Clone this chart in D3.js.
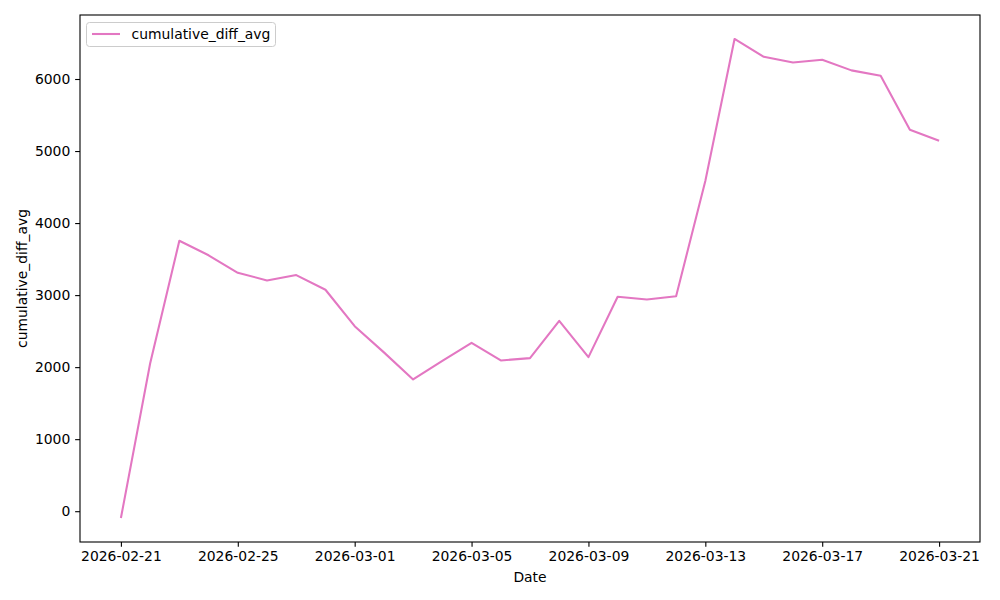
<!DOCTYPE html>
<html>
<head>
<meta charset="utf-8">
<script src="https://cdn.jsdelivr.net/npm/d3@7"></script>
<style>
  body { margin: 0; background: #fff; }
  svg { font-family: "DejaVu Sans", sans-serif; }
  .tick text { font-size: 13.9px; fill: #000; font-family: "DejaVu Sans", sans-serif; }
  .tick line { stroke: #000; stroke-width: 1.1; }
  .domain { display: none; }
</style>
</head>
<body>
<svg width="1000" height="600"></svg>
<script>
'use strict';

var dates = [
  "2026-02-21","2026-02-22","2026-02-23","2026-02-24","2026-02-25","2026-02-26",
  "2026-02-27","2026-02-28","2026-03-01","2026-03-02","2026-03-03","2026-03-04",
  "2026-03-05","2026-03-06","2026-03-07","2026-03-08","2026-03-09","2026-03-10",
  "2026-03-11","2026-03-12","2026-03-13","2026-03-14","2026-03-15","2026-03-16",
  "2026-03-17","2026-03-18","2026-03-19","2026-03-20","2026-03-21"
];
var cumulativeDiffAvg = [
  -95, 2050, 3754, 3553, 3310, 3204,
  3278, 3074, 2569, 2205, 1829, 2088,
  2338, 2093, 2125, 2643, 2139, 2978,
  2940, 2984, 4583, 6556, 6308, 6229,
  6268, 6120, 6044, 5295, 5142
];
var xTickLabels = ["2026-02-21","2026-02-25","2026-03-01","2026-03-05","2026-03-09","2026-03-13","2026-03-17","2026-03-21"];
var yTickValues = [0, 1000, 2000, 3000, 4000, 5000, 6000];
var seriesName = "cumulative_diff_avg";

function init(){
    var svg = d3.select("svg");
    var left = 80, right = 980, top = 15, bottom = 542;
    var parse = d3.utcParse("%Y-%m-%d");
    var data = dates.map(function(d, i){ return {date: parse(d), value: cumulativeDiffAvg[i]}; });

    // matplotlib style 5% margins
    var xExt = d3.extent(data, function(d){ return +d.date; });
    var xPad = (xExt[1] - xExt[0]) * 0.05;
    var x = d3.scaleUtc()
        .domain([new Date(xExt[0] - xPad), new Date(xExt[1] + xPad)])
        .range([left, right]);

    var yExt = d3.extent(data, function(d){ return d.value; });
    var yPad = (yExt[1] - yExt[0]) * 0.05;
    var y = d3.scaleLinear()
        .domain([yExt[0] - yPad, yExt[1] + yPad])
        .range([bottom, top]);

    var tick = 4.86;

    svg.append("g")
        .attr("transform", "translate(0," + bottom + ")")
        .call(d3.axisBottom(x)
            .tickValues(xTickLabels.map(parse))
            .tickFormat(d3.utcFormat("%Y-%m-%d"))
            .tickSize(tick).tickPadding(4.2))
        .attr("font-family", "DejaVu Sans");

    svg.append("g")
        .attr("transform", "translate(" + left + ",0)")
        .call(d3.axisLeft(y)
            .tickValues(yTickValues)
            .tickFormat(d3.format("d"))
            .tickSize(tick).tickPadding(4.86))
        .attr("font-family", "DejaVu Sans");

    var line = d3.line()
        .x(function(d){ return x(d.date); })
        .y(function(d){ return y(d.value); });

    svg.append("path")
        .datum(data)
        .attr("fill", "none")
        .attr("stroke", "#e377c2")
        .attr("stroke-width", 2.08)
        .attr("stroke-linejoin", "round")
        .attr("d", line);

    // frame
    svg.append("rect")
        .attr("x", left).attr("y", top)
        .attr("width", right - left).attr("height", bottom - top)
        .attr("fill", "none")
        .attr("stroke", "#000")
        .attr("stroke-width", 1.1);

    // axis labels
    svg.append("text")
        .attr("x", (left + right) / 2).attr("y", 582)
        .attr("text-anchor", "middle")
        .style("font-size", "13.9px")
        .text("Date");

    svg.append("text")
        .attr("transform", "translate(27," + ((top + bottom) / 2) + ") rotate(-90)")
        .attr("text-anchor", "middle")
        .style("font-size", "13.9px")
        .text(seriesName);

    // legend
    var lg = svg.append("g").attr("transform", "translate(86.5,22.5)");
    lg.append("rect")
        .attr("width", 189).attr("height", 24)
        .attr("rx", 3).attr("ry", 3)
        .attr("fill", "#fff").attr("fill-opacity", 0.8)
        .attr("stroke", "#ccc").attr("stroke-width", 1);
    lg.append("line")
        .attr("x1", 5.5).attr("x2", 33.5)
        .attr("y1", 11.5).attr("y2", 11.5)
        .attr("stroke", "#e377c2").attr("stroke-width", 2.08);
    lg.append("text")
        .attr("x", 45).attr("y", 16.5)
        .style("font-size", "13.9px")
        .text(seriesName);
}
init();
</script>
</body>
</html>
